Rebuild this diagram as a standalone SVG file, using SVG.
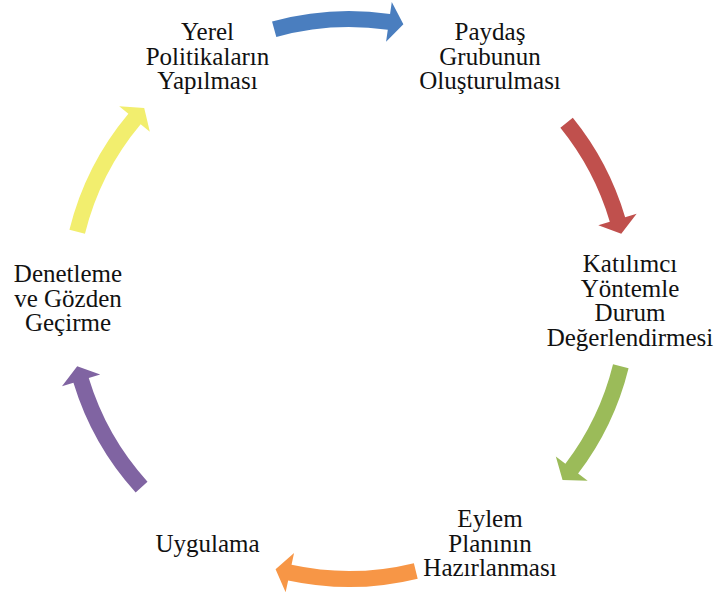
<svg xmlns="http://www.w3.org/2000/svg" width="716" height="597" viewBox="0 0 716 597">
<style>
.lbl{font-family:"Liberation Serif","Times New Roman",serif;font-size:25px;fill:#111;text-anchor:middle}
</style>
<rect width="716" height="597" fill="#fff"/>
<g id="connectors">
<path id="a1" fill="#4A7EBF" d="M 276.32,36.90 L 272.05,21.48 A 288 288 0 0 1 390.07,13.94 L 391.78,2.06 L 403.38,24.32 L 386.08,41.65 L 387.79,29.77 A 272 272 0 0 0 276.32,36.90 Z"/>
<path id="a2" fill="#C0504D" d="M 560.37,127.83 L 572.80,117.76 A 288 288 0 0 1 625.13,217.21 L 636.64,213.80 L 621.27,233.65 L 598.29,225.16 L 609.79,221.75 A 272 272 0 0 0 560.37,127.83 Z"/>
<path id="a3" fill="#9BBB59" d="M 613.03,364.33 L 628.56,368.18 A 288 288 0 0 1 578.10,473.53 L 587.65,480.80 L 562.56,480.10 L 555.83,456.56 L 565.38,463.83 A 272 272 0 0 0 613.03,364.33 Z"/>
<path id="a4" fill="#F79646" d="M 413.87,563.14 L 417.69,578.68 A 288 288 0 0 1 288.15,580.49 L 285.61,592.22 L 275.58,569.20 L 294.06,553.12 L 291.53,564.85 A 272 272 0 0 0 413.87,563.14 Z"/>
<path id="a5" fill="#8064A2" d="M 147.50,481.70 L 135.65,492.45 A 288 288 0 0 1 73.44,382.72 L 61.96,386.21 L 77.20,366.26 L 100.23,374.58 L 88.75,378.07 A 272 272 0 0 0 147.50,481.70 Z"/>
<path id="a6" fill="#F2EE6E" d="M 84.97,233.67 L 69.44,229.82 A 288 288 0 0 1 128.39,113.87 L 119.19,106.16 L 144.21,108.04 L 149.84,131.87 L 140.65,124.16 A 272 272 0 0 0 84.97,233.67 Z"/>
</g>
<g id="n1">
<text class="lbl" x="207.5" y="39.5">Yerel</text>
<text class="lbl" x="207.5" y="64.5">Politikaların</text>
<text class="lbl" x="207.5" y="89">Yapılması</text>
</g>
<g id="n2">
<text class="lbl" x="490" y="39.5">Paydaş</text>
<text class="lbl" x="490" y="64.5">Grubunun</text>
<text class="lbl" x="490" y="89">Oluşturulması</text>
</g>
<g id="n3">
<text class="lbl" x="630" y="272">Katılımcı</text>
<text class="lbl" x="630" y="296.5">Yöntemle</text>
<text class="lbl" x="630" y="321">Durum</text>
<text class="lbl" x="630" y="345.5">Değerlendirmesi</text>
</g>
<g id="n4">
<text class="lbl" x="490" y="527">Eylem</text>
<text class="lbl" x="490" y="551.5">Planının</text>
<text class="lbl" x="490" y="576">Hazırlanması</text>
</g>
<g id="n5">
<text class="lbl" x="207.5" y="551.5">Uygulama</text>
</g>
<g id="n6">
<text class="lbl" x="68" y="282">Denetleme</text>
<text class="lbl" x="68" y="306.5">ve Gözden</text>
<text class="lbl" x="68" y="331">Geçirme</text>
</g>
</svg>
